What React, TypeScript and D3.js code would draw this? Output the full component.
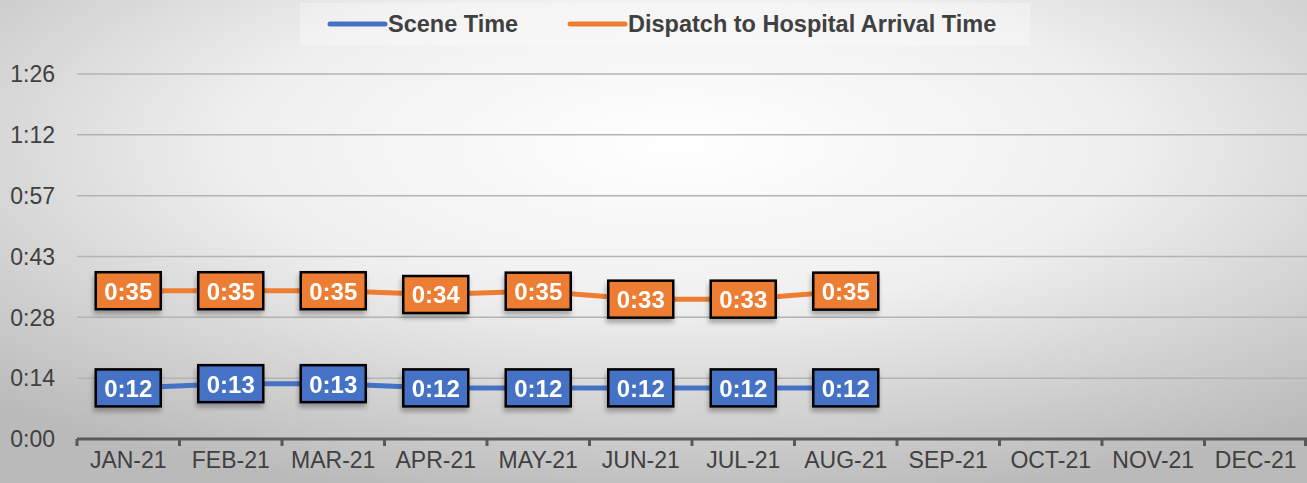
import React from 'react';
import { scaleBand, scaleLinear, line } from 'd3';

// months on the x axis
const months = [
  'JAN-21', 'FEB-21', 'MAR-21', 'APR-21', 'MAY-21', 'JUN-21',
  'JUL-21', 'AUG-21', 'SEP-21', 'OCT-21', 'NOV-21', 'DEC-21'
];

// values in minutes (only Jan..Aug reported)
const sceneTime = [12.1, 13.1, 13.1, 12.1, 12.1, 12.1, 12.1, 12.1];
const dispatchToHospital = [35.1, 35.1, 35.1, 34.2, 35.0, 33.1, 33.1, 35.0];

// excel style time ticks (0.01 day steps), in minutes
const yTicks = [0, 14.4, 28.8, 43.2, 57.6, 72, 86.4];

const series = [
  { name: 'Scene Time', values: sceneTime, color: '#4472C4' },
  { name: 'Dispatch to Hospital Arrival Time', values: dispatchToHospital, color: '#ED7D31' }
];

const W = 1307;
const H = 483;
const FONT = 'Arial, "Liberation Sans", sans-serif';

// h:mm, truncated like excel does
const fmt = (m: number) => {
  const t = Math.floor(m + 1e-9);
  const h = Math.floor(t / 60);
  const mm = t % 60;
  return h + ':' + (mm < 10 ? '0' : '') + mm;
};

export default function App() {
  const margin = { top: 74, right: 0, bottom: 44, left: 77 };

  const x = scaleBand<string>()
    .domain(months)
    .range([margin.left, W - margin.right]);

  const y = scaleLinear()
    .domain([0, 86.4])
    .range([439, margin.top]);

  const cx = (i: number) => (x(months[i]) as number) + x.bandwidth() / 2;

  const path = line<number>()
    .x((_, i) => cx(i))
    .y(d => y(d));

  const boxW = 65;
  const boxH = 37;

  // legend layout
  const legend = [
    { lx: 330, tx: 388 },
    { lx: 570, tx: 628 }
  ];

  return (
    <svg
      width={W}
      height={H}
      style={{ position: 'absolute', left: 0, top: 0, display: 'block' }}
    >
      <defs>
        <radialGradient id="bg" cx="52%" cy="30%" r="75%" fx="52%" fy="30%">
          <stop offset="0%" stopColor="#ffffff" />
          <stop offset="45%" stopColor="#efefef" />
          <stop offset="100%" stopColor="#bababa" />
        </radialGradient>
        <filter id="shadow" x="-30%" y="-30%" width="160%" height="180%">
          <feGaussianBlur in="SourceAlpha" stdDeviation="2.5" />
          <feOffset dx="-1" dy="4" result="b" />
          <feComponentTransfer>
            <feFuncA type="linear" slope="0.3" />
          </feComponentTransfer>
          <feMerge>
            <feMergeNode />
            <feMergeNode in="SourceGraphic" />
          </feMerge>
        </filter>
      </defs>

      <rect x={0} y={0} width={W} height={H} fill="url(#bg)" />

      {/* legend band */}
      <rect x={300} y={3} width={730} height={42} fill="#ffffff" opacity={0.3} />
      {series.map((s, i) => (
        <g key={s.name}>
          <line
            x1={legend[i].lx}
            x2={legend[i].lx + 55}
            y1={24}
            y2={24}
            stroke={s.color}
            strokeWidth={5}
            strokeLinecap="round"
          />
          <text
            x={legend[i].tx}
            y={32}
            fontFamily={FONT}
            fontWeight="bold"
            fontSize={23.5}
            fill="#404040"
          >
            {s.name}
          </text>
        </g>
      ))}

      {/* gridlines */}
      {yTicks.slice(1).map(t => (
        <line
          key={t}
          x1={margin.left}
          x2={W}
          y1={y(t)}
          y2={y(t)}
          stroke="#b3b3b3"
          strokeWidth={1.5}
        />
      ))}

      {/* y labels */}
      {yTicks.map(t => (
        <text
          key={'l' + t}
          x={55}
          y={y(t)}
          dy="0.36em"
          textAnchor="end"
          fontFamily={FONT}
          fontSize={23}
          fill="#404040"
        >
          {fmt(t)}
        </text>
      ))}

      {/* x axis */}
      <line x1={margin.left} x2={W} y1={439} y2={439} stroke="#595959" strokeWidth={3} />
      {months.map(m => (
        <line
          key={'t' + m}
          x1={x(m) as number}
          x2={x(m) as number}
          y1={439}
          y2={446}
          stroke="#595959"
          strokeWidth={3}
        />
      ))}
      <line x1={W - 1.5} x2={W - 1.5} y1={439} y2={446} stroke="#595959" strokeWidth={3} />
      {months.map((m, i) => (
        <text
          key={'x' + m}
          x={cx(i)}
          y={468}
          textAnchor="middle"
          fontFamily={FONT}
          fontSize={23}
          fill="#404040"
        >
          {m}
        </text>
      ))}

      {/* lines */}
      {series.map(s => (
        <path
          key={'p' + s.name}
          d={path(s.values) as string}
          fill="none"
          stroke={s.color}
          strokeWidth={5}
          strokeLinejoin="round"
        />
      ))}

      {/* data labels */}
      {series.map(s =>
        s.values.map((v, i) => (
          <g key={s.name + i} filter="url(#shadow)">
            <rect
              x={cx(i) - boxW / 2}
              y={y(v) - boxH / 2}
              width={boxW}
              height={boxH}
              fill={s.color}
              stroke="#000000"
              strokeWidth={2.5}
            />
            <text
              x={cx(i)}
              y={y(v)}
              dy="0.37em"
              textAnchor="middle"
              fontFamily={FONT}
              fontWeight="bold"
              fontSize={24}
              fill="#ffffff"
            >
              {fmt(v)}
            </text>
          </g>
        ))
      )}
    </svg>
  );
}
